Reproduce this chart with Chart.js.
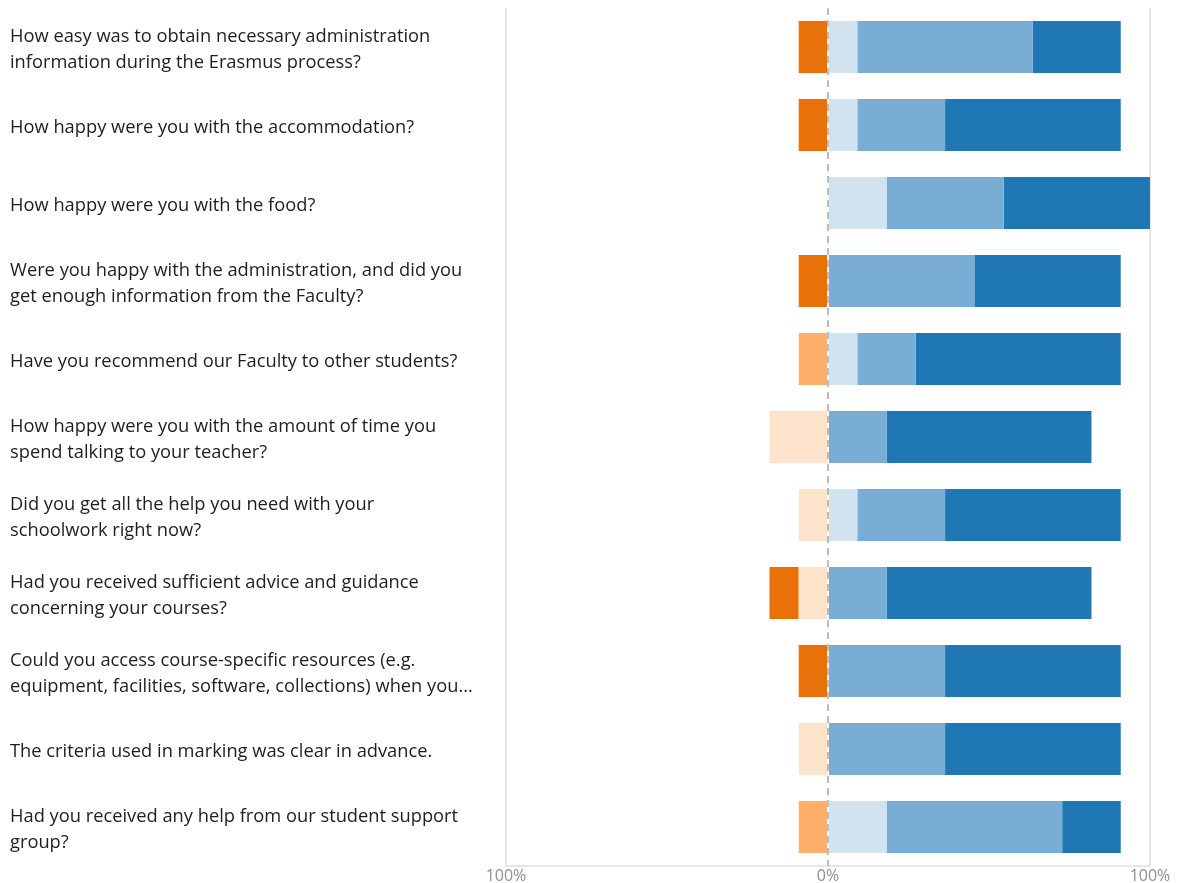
<!DOCTYPE html>
<html>
<head>
<meta charset="utf-8">
<script src="https://cdn.jsdelivr.net/npm/chart.js@4"></script>
<style>
  html, body { margin: 0; padding: 0; background: #fff; }
  #wrap { width: 1177px; height: 883px; position: relative; }
</style>
</head>
<body>
<div id="wrap"><canvas id="chart"></canvas></div>
<script>
// questions (one row each)
const questions = [
  ['How easy was to obtain necessary administration', 'information during the Erasmus process?'],
  'How happy were you with the accommodation?',
  'How happy were you with the food?',
  ['Were you happy with the administration, and did you', 'get enough information from the Faculty?'],
  'Have you recommend our Faculty to other students?',
  ['How happy were you with the amount of time you', 'spend talking to your teacher?'],
  ['Did you get all the help you need with your', 'schoolwork right now?'],
  ['Had you received sufficient advice and guidance', 'concerning your courses?'],
  ['Could you access course-specific resources (e.g.', 'equipment, facilities, software, collections) when you…'],
  'The criteria used in marking was clear in advance.',
  ['Had you received any help from our student support', 'group?']
];

// percent of answers; negative side stored as negative values
const slightlyNegative = [0, 0, 0, 0, 0, -18.18, -9.09, -9.09, 0, -9.09, 0];
const negative         = [0, 0, 0, 0, -9.09, 0, 0, 0, 0, 0, -9.09];
const veryNegative     = [-9.09, -9.09, 0, -9.09, 0, 0, 0, -9.09, -9.09, 0, 0];
const slightlyPositive = [9.09, 9.09, 18.18, 0, 9.09, 0, 9.09, 0, 0, 0, 18.18];
const positive         = [54.55, 27.27, 36.36, 45.45, 18.18, 18.18, 27.27, 18.18, 36.36, 36.36, 54.55];
const veryPositive     = [27.27, 54.55, 45.45, 45.45, 63.64, 63.64, 54.55, 63.64, 54.55, 54.55, 18.18];

const xTicks = [-100, 0, 100];

const zeroLine = {
  id: 'zeroLine',
  beforeDatasetsDraw(chart) {
    const x = chart.scales.x.getPixelForValue(0);
    const { top, bottom } = chart.chartArea;
    const ctx = chart.ctx;
    ctx.save();
    ctx.strokeStyle = '#bdbdbd';
    ctx.lineWidth = 2;
    ctx.setLineDash([7, 5]);
    ctx.beginPath();
    ctx.moveTo(Math.round(x), top);
    ctx.lineTo(Math.round(x), bottom);
    ctx.stroke();
    ctx.restore();
  }
};

const ds = (label, data, color) => ({
  label, data, backgroundColor: color, borderWidth: 0,
  categoryPercentage: 1, barPercentage: 0.667, stack: 's'
});

new Chart(document.getElementById('chart'), {
  type: 'bar',
  data: {
    labels: questions,
    datasets: [
      ds('slightly negative', slightlyNegative, '#fee3cd'),
      ds('negative', negative, '#fdae6b'),
      ds('very negative', veryNegative, '#e8710a'),
      ds('slightly positive', slightlyPositive, '#d2e3f0'),
      ds('positive', positive, '#7aadd3'),
      ds('very positive', veryPositive, '#1f77b4'),
    ]
  },
  options: {
    indexAxis: 'y',
    responsive: true,
    maintainAspectRatio: false,
    animation: false,
    layout: { padding: { left: 10, right: 27, top: 8, bottom: 0 } },
    plugins: { legend: { display: false }, tooltip: { enabled: false } },
    scales: {
      x: {
        stacked: true,
        min: -100, max: 100,
        afterBuildTicks: s => { s.ticks = xTicks.map(v => ({ value: v })); },
        afterFit: s => { s.height = 17; },
        ticks: {
          padding: 1,
          color: '#8f8f8f',
          font: { family: 'Open Sans', size: 16 },
          callback: v => Math.abs(v) + '%'
        },
        grid: {
          drawTicks: false,
          color: c => (c.tick && c.tick.value === 0) ? 'rgba(0,0,0,0)' : '#e6e6e6',
          lineWidth: 2
        },
        border: { display: true, color: '#e6e6e6', width: 2 }
      },
      y: {
        stacked: true,
        afterFit: s => { s.width = 496; s.paddingTop = 0; s.paddingBottom = 0; },
        ticks: {
          crossAlign: 'far',
          labelOffset: 3,
          color: '#1e1e1e',
          font: { family: 'Open Sans', size: 18.3, lineHeight: 1.42 }
        },
        grid: { display: false, drawTicks: false },
        border: { display: false }
      }
    }
  },
  plugins: [zeroLine]
});
</script>
</body>
</html>
